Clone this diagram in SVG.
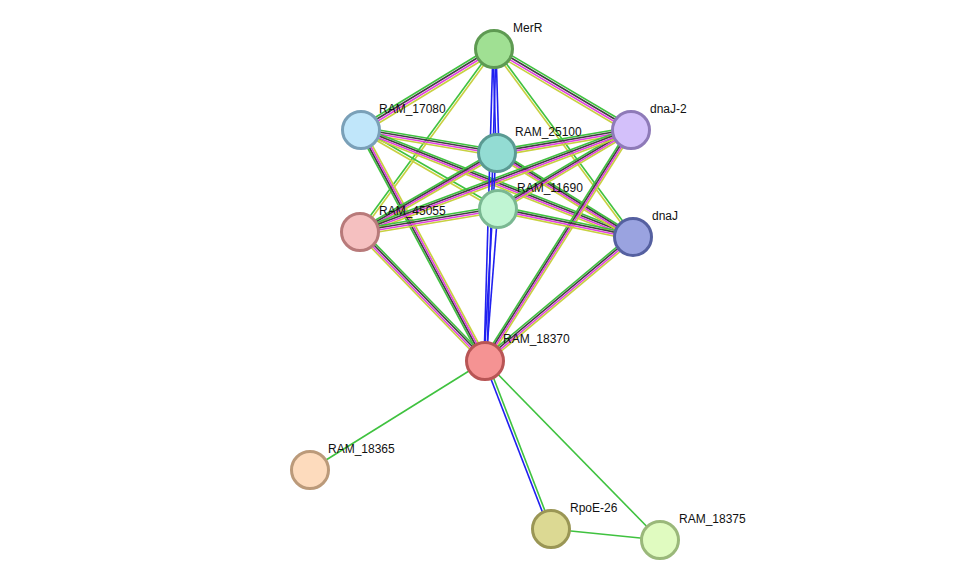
<svg xmlns="http://www.w3.org/2000/svg" xmlns:xlink="http://www.w3.org/1999/xlink" width="975" height="586" viewBox="0 0 975 586">
<style>
.g{stroke:#3fc23f;stroke-width:1.6}.k{stroke:#404040;stroke-width:1.6}.m{stroke:#e040e0;stroke-width:1.6}.y{stroke:#c8d040;stroke-width:1.6}.b{stroke:#2020f0;stroke-width:1.6}
circle{stroke-width:3}
text{font-family:"Liberation Sans",Arial,sans-serif;font-size:12px;fill:#111}
</style>
<rect width="975" height="586" fill="#fff"/>
<defs>
<line id="AB" x1="494" y1="49" x2="361" y2="130"/>
<line id="AD" x1="494" y1="49" x2="631" y2="130"/>
<line id="AF" x1="494" y1="49" x2="360" y2="232"/>
<line id="AG" x1="494" y1="49" x2="633" y2="237"/>
<line id="BC" x1="361" y1="130" x2="497" y2="153"/>
<line id="BE" x1="361" y1="130" x2="498" y2="209"/>
<line id="BG" x1="361" y1="130" x2="633" y2="237"/>
<line id="BH" x1="361" y1="130" x2="485" y2="361"/>
<line id="CD" x1="497" y1="153" x2="631" y2="130"/>
<line id="CF" x1="497" y1="153" x2="360" y2="232"/>
<line id="CG" x1="497" y1="153" x2="633" y2="237"/>
<line id="DE" x1="631" y1="130" x2="498" y2="209"/>
<line id="DF" x1="631" y1="130" x2="360" y2="232"/>
<line id="DH" x1="631" y1="130" x2="485" y2="361"/>
<line id="EF" x1="498" y1="209" x2="360" y2="232"/>
<line id="EG" x1="498" y1="209" x2="633" y2="237"/>
<line id="FH" x1="360" y1="232" x2="485" y2="361"/>
<line id="GH" x1="633" y1="237" x2="485" y2="361"/>
</defs>
<g id="connectors" fill="none">
<g>
<use href="#AB" class="g" transform="translate(-1.5,-3)"/><use href="#AB" class="k" transform="translate(-0.5,-1)"/><use href="#AB" class="m" transform="translate(0.5,1)"/><use href="#AB" class="y" transform="translate(1.5,3)"/>
<use href="#AD" class="g" transform="translate(1.5,-3)"/><use href="#AD" class="k" transform="translate(0.5,-1)"/><use href="#AD" class="m" transform="translate(-0.5,1)"/><use href="#AD" class="y" transform="translate(-1.5,3)"/>
<use href="#AF" class="g" transform="translate(-1.5,0)"/><use href="#AF" class="y" transform="translate(1.5,0)"/>
<use href="#AG" class="g" transform="translate(1.5,0)"/><use href="#AG" class="y" transform="translate(-1.5,0)"/>
<use href="#BC" class="g" transform="translate(0,-3)"/><use href="#BC" class="k" transform="translate(0,-1)"/><use href="#BC" class="m" transform="translate(0,1)"/><use href="#BC" class="y" transform="translate(0,3)"/>
<use href="#BE" class="g" transform="translate(0,-1.5)"/><use href="#BE" class="y" transform="translate(0,1.5)"/>
<use href="#BG" class="g" transform="translate(0,-3)"/><use href="#BG" class="k" transform="translate(0,-1)"/><use href="#BG" class="m" transform="translate(0,1)"/><use href="#BG" class="y" transform="translate(0,3)"/>
<use href="#BH" class="g" transform="translate(-3,0)"/><use href="#BH" class="k" transform="translate(-1,0)"/><use href="#BH" class="m" transform="translate(1,0)"/><use href="#BH" class="y" transform="translate(3,0)"/>
<use href="#CD" class="g" transform="translate(0,-3)"/><use href="#CD" class="k" transform="translate(0,-1)"/><use href="#CD" class="m" transform="translate(0,1)"/><use href="#CD" class="y" transform="translate(0,3)"/>
<use href="#CF" class="g" transform="translate(0,-3)"/><use href="#CF" class="k" transform="translate(0,-1)"/><use href="#CF" class="m" transform="translate(0,1)"/><use href="#CF" class="y" transform="translate(0,3)"/>
<use href="#CG" class="g" transform="translate(0,-3)"/><use href="#CG" class="k" transform="translate(0,-1)"/><use href="#CG" class="m" transform="translate(0,1)"/><use href="#CG" class="y" transform="translate(0,3)"/>
<use href="#DE" class="g" transform="translate(0,-3)"/><use href="#DE" class="k" transform="translate(0,-1)"/><use href="#DE" class="m" transform="translate(0,1)"/><use href="#DE" class="y" transform="translate(0,3)"/>
<use href="#DF" class="g" transform="translate(0,-3)"/><use href="#DF" class="k" transform="translate(0,-1)"/><use href="#DF" class="m" transform="translate(0,1)"/><use href="#DF" class="y" transform="translate(0,3)"/>
<use href="#DH" class="g" transform="translate(-3,0)"/><use href="#DH" class="k" transform="translate(-1,0)"/><use href="#DH" class="m" transform="translate(1,0)"/><use href="#DH" class="y" transform="translate(3,0)"/>
<use href="#EF" class="g" transform="translate(0,-3)"/><use href="#EF" class="k" transform="translate(0,-1)"/><use href="#EF" class="m" transform="translate(0,1)"/><use href="#EF" class="y" transform="translate(0,3)"/>
<use href="#EG" class="g" transform="translate(0,-3)"/><use href="#EG" class="k" transform="translate(0,-1)"/><use href="#EG" class="m" transform="translate(0,1)"/><use href="#EG" class="y" transform="translate(0,3)"/>
<use href="#FH" class="g" transform="translate(2,-2)"/><use href="#FH" class="k" transform="translate(0.7,-0.7)"/><use href="#FH" class="m" transform="translate(-0.7,0.7)"/><use href="#FH" class="y" transform="translate(-2,2)"/>
<use href="#GH" class="g" transform="translate(-2,-2)"/><use href="#GH" class="k" transform="translate(-0.7,-0.7)"/><use href="#GH" class="m" transform="translate(0.7,0.7)"/><use href="#GH" class="y" transform="translate(2,2)"/>
</g>
<line x1="493" y1="49" x2="496" y2="153" class="b"/><line x1="496" y1="49" x2="499" y2="153" class="b"/>
<line x1="493" y1="49" x2="484" y2="361" class="b"/><line x1="496" y1="49" x2="487" y2="361" class="b"/>
<line x1="496" y1="153" x2="484" y2="361" class="b"/>
<line x1="498" y1="209" x2="486" y2="361" class="b"/>
<line x1="485" y1="361" x2="310" y2="470" class="g"/>
<line x1="484" y1="361" x2="549" y2="529" class="b"/><line x1="487" y1="361" x2="552" y2="529" class="g"/>
<line x1="485" y1="361" x2="660" y2="540" class="g"/>
<line x1="551" y1="529" x2="660" y2="540" class="g"/>
</g>
<g id="MerR"><circle cx="494" cy="49" r="18.5" fill="#a0e093" stroke="#5e9a52"/><text x="513" y="32">MerR</text></g>
<g id="RAM_17080"><circle cx="361" cy="130" r="18.5" fill="#c0e6fa" stroke="#7aa0b8"/><text x="379" y="113">RAM_17080</text></g>
<g id="RAM_25100"><circle cx="497" cy="153" r="18.5" fill="#93dcd3" stroke="#5a9a92"/><text x="515" y="136">RAM_25100</text></g>
<g id="dnaJ-2"><circle cx="631" cy="130" r="18.5" fill="#d3c0fa" stroke="#8e7ab8"/><text x="650" y="113">dnaJ-2</text></g>
<g id="RAM_11690"><circle cx="498" cy="209" r="18.5" fill="#c0f5d3" stroke="#7ab892"/><text x="517" y="192">RAM_11690</text></g>
<g id="RAM_45055"><circle cx="360" cy="232" r="18.5" fill="#f5c0c0" stroke="#b87a7a"/><text x="379" y="215">RAM_45055</text></g>
<g id="dnaJ"><circle cx="633" cy="237" r="18.5" fill="#9aa3e0" stroke="#5560a0"/><text x="652" y="220">dnaJ</text></g>
<g id="RAM_18370"><circle cx="485" cy="361" r="18.5" fill="#f59393" stroke="#b85555"/><text x="503" y="343">RAM_18370</text></g>
<g id="RAM_18365"><circle cx="310" cy="470" r="18.5" fill="#fddbbd" stroke="#bb9a7a"/><text x="328" y="453">RAM_18365</text></g>
<g id="RpoE-26"><circle cx="551" cy="529" r="18.5" fill="#dcd993" stroke="#9a9655"/><text x="570" y="512">RpoE-26</text></g>
<g id="RAM_18375"><circle cx="660" cy="540" r="18.5" fill="#e0fbc0" stroke="#9ab87a"/><text x="679" y="523">RAM_18375</text></g>
</svg>
